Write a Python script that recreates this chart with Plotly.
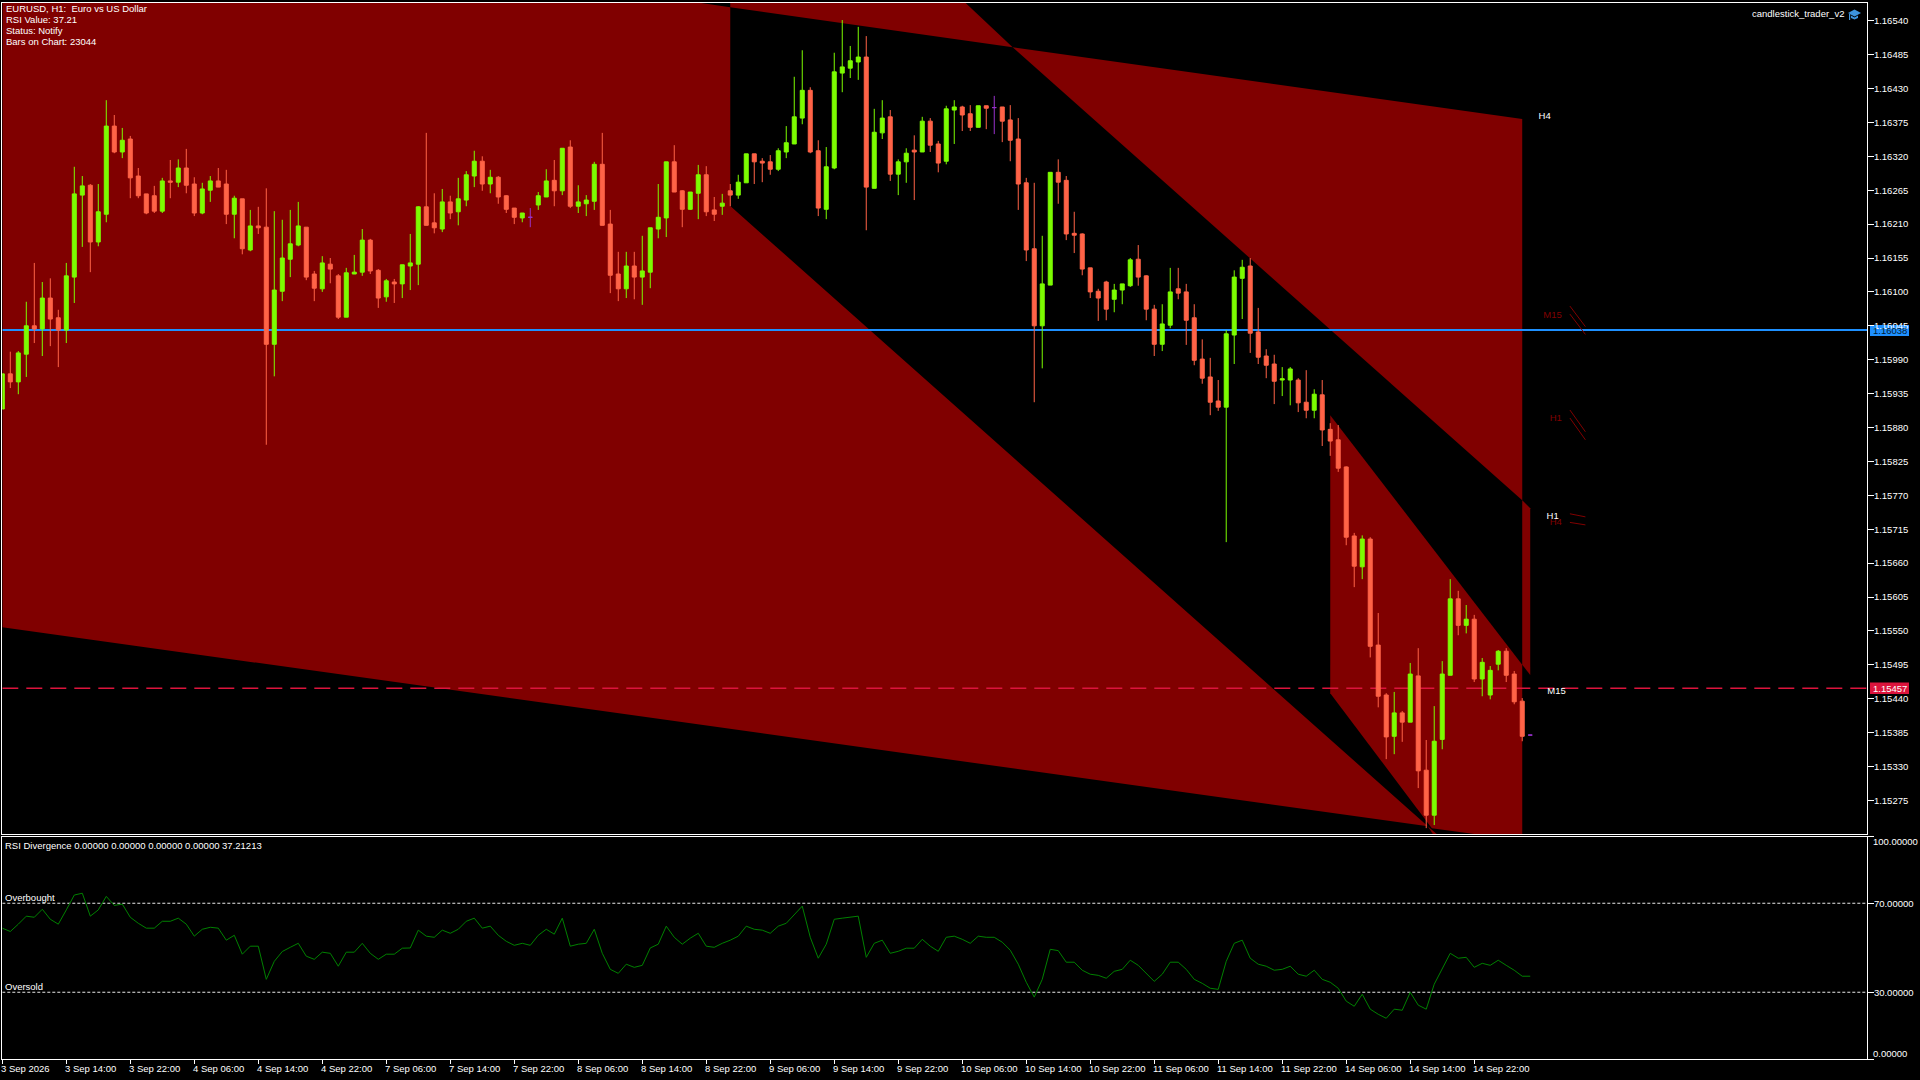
import numpy as np
import plotly.graph_objects as go

WIDTH, HEIGHT = 1920, 1080

# EURUSD H1 candles, in 1e-5 price points, one row of ten bars per line
open_pts = [
    115910, 115967, 115954, 115999, 116045, 116040, 116090, 116058, 116038, 116124,
    116257, 116273, 116181, 116226, 116369, 116327, 116348, 116288, 116259, 116256,
    116231, 116280, 116278, 116301, 116275, 116228, 116265, 116280, 116275, 116226,
    116251, 116168, 116207, 116205, 116015, 116101, 116153, 116176, 116205, 116129,
    116105, 116145, 116126, 116059, 116129, 116132, 116184, 116135, 116092, 116116,
    116113, 116142, 116145, 116238, 116212, 116202, 116246, 116230, 116249, 116288,
    116312, 116275, 116286, 116256, 116236, 116220, 116221, 116241, 116254, 116281,
    116264, 116335, 116239, 116243, 116247, 116307, 116210, 116129, 116105, 116142,
    116124, 116132, 116202, 116220, 116311, 116264, 116234, 116260, 116290, 116233,
    116239, 116264, 116257, 116277, 116324, 116312, 116311, 116299, 116327, 116340,
    116382, 116427, 116329, 116234, 116301, 116455, 116463, 116473, 116481, 116268,
    116358, 116384, 116291, 116311, 116330, 116327, 116377, 116340, 116312, 116395,
    116400, 116389, 116367, 116402, 116399, 116400, 116379, 116348, 116277, 116170,
    116045, 116111, 116294, 116281, 116195, 116194, 116139, 116101, 116116, 116088,
    116103, 116110, 116153, 116126, 116072, 116015, 116046, 116105, 116100, 116058,
    115991, 115962, 115923, 115913, 116030, 116122, 116142, 116035, 115996, 115983,
    115957, 115957, 115957, 115921, 115908, 115933, 115877, 115860, 115816, 115704,
    115654, 115699, 115527, 115446, 115379, 115417, 115402, 115477, 115324, 115251,
    115374, 115478, 115602, 115559, 115569, 115472, 115446, 115496, 115517, 115480,
    115436, 115381,
]
high_pts = [
    115967, 116003, 116004, 116084, 116147, 116116, 116122, 116071, 116147, 116303,
    116288, 116275, 116275, 116411, 116387, 116366, 116353, 116301, 116259, 116272,
    116285, 116314, 116315, 116332, 116286, 116277, 116288, 116301, 116298, 116256,
    116251, 116233, 116238, 116268, 116231, 116217, 116233, 116246, 116205, 116134,
    116158, 116155, 116129, 116139, 116160, 116202, 116186, 116137, 116121, 116121,
    116144, 116194, 116239, 116358, 116260, 116267, 116256, 116285, 116296, 116329,
    116320, 116298, 116288, 116257, 116236, 116228, 116236, 116262, 116299, 116314,
    116333, 116346, 116273, 116257, 116311, 116358, 116233, 116165, 116165, 116165,
    116191, 116204, 116275, 116311, 116338, 116265, 116262, 116306, 116304, 116254,
    116259, 116275, 116290, 116324, 116324, 116317, 116322, 116333, 116369, 116449,
    116492, 116432, 116346, 116335, 116488, 116541, 116499, 116530, 116515, 116397,
    116411, 116395, 116315, 116333, 116354, 116384, 116382, 116345, 116402, 116411,
    116402, 116403, 116402, 116402, 116418, 116400, 116403, 116382, 116285, 116277,
    116191, 116294, 116315, 116288, 116230, 116195, 116139, 116105, 116118, 116113,
    116113, 116155, 116176, 116127, 116079, 116080, 116139, 116139, 116113, 116080,
    116023, 115993, 115957, 116038, 116135, 116152, 116155, 116074, 116007, 115998,
    115978, 115978, 115960, 115973, 115942, 115957, 115887, 115884, 115817, 115709,
    115705, 115702, 115579, 115449, 115451, 115420, 115498, 115522, 115373, 115428,
    115501, 115634, 115615, 115592, 115576, 115506, 115493, 115519, 115522, 115485,
    115441, 115381,
]
low_pts = [
    115910, 115944, 115934, 115962, 116017, 115996, 116012, 115978, 116017, 116082,
    116173, 116132, 116174, 116213, 116325, 116317, 116252, 116252, 116226, 116228,
    116228, 116252, 116270, 116260, 116223, 116226, 116246, 116270, 116210, 116187,
    116161, 116166, 116194, 115852, 115963, 116085, 116124, 116174, 116119, 116085,
    116100, 116114, 116056, 116059, 116129, 116126, 116129, 116074, 116084, 116082,
    116090, 116103, 116111, 116208, 116195, 116197, 116218, 116208, 116239, 116270,
    116264, 116260, 116243, 116228, 116210, 116213, 116205, 116233, 116254, 116239,
    116257, 116236, 116228, 116223, 116233, 116208, 116098, 116085, 116090, 116088,
    116079, 116106, 116187, 116189, 116262, 116205, 116233, 116218, 116223, 116215,
    116225, 116239, 116251, 116277, 116275, 116278, 116290, 116296, 116317, 116340,
    116372, 116325, 116223, 116218, 116299, 116424, 116447, 116444, 116200, 116268,
    116348, 116280, 116257, 116277, 116249, 116327, 116327, 116294, 116307, 116340,
    116361, 116361, 116367, 116364, 116356, 116343, 116312, 116233, 116150, 115921,
    115976, 116111, 116243, 116184, 116163, 116127, 116090, 116053, 116054, 116067,
    116080, 116108, 116110, 116054, 115996, 116004, 116041, 116088, 116014, 115981,
    115951, 115900, 115907, 115694, 115983, 116056, 116001, 115983, 115960, 115918,
    115931, 115916, 115905, 115895, 115895, 115850, 115834, 115808, 115689, 115621,
    115634, 115507, 115426, 115342, 115350, 115370, 115402, 115295, 115230, 115235,
    115358, 115478, 115543, 115546, 115467, 115444, 115439, 115486, 115467, 115431,
    115371, 115381,
]
close_pts = [
    115967, 115954, 116001, 116045, 116040, 116090, 116056, 116038, 116126, 116259,
    116272, 116181, 116230, 116369, 116327, 116346, 116285, 116256, 116228, 116231,
    116280, 116278, 116301, 116273, 116228, 116267, 116280, 116270, 116226, 116252,
    116170, 116207, 116204, 116015, 116103, 116155, 116178, 116207, 116124, 116106,
    116147, 116137, 116059, 116131, 116132, 116184, 116134, 116090, 116118, 116113,
    116144, 116147, 116238, 116208, 116204, 116246, 116228, 116251, 116290, 116312,
    116275, 116286, 116254, 116234, 116221, 116228, 116221, 116256, 116280, 116264,
    116333, 116239, 116246, 116249, 116307, 116208, 116127, 116105, 116142, 116124,
    116134, 116204, 116221, 116311, 116262, 116234, 116262, 116290, 116230, 116226,
    116244, 116257, 116278, 116324, 116311, 116309, 116299, 116329, 116342, 116384,
    116427, 116327, 116236, 116303, 116457, 116465, 116475, 116481, 116270, 116359,
    116382, 116291, 116311, 116325, 116327, 116377, 116338, 116309, 116397, 116400,
    116387, 116367, 116402, 116398, 116399, 116377, 116346, 116275, 116168, 116045,
    116113, 116294, 116278, 116194, 116192, 116137, 116100, 116090, 116072, 116103,
    116113, 116152, 116124, 116072, 116015, 116048, 116100, 116098, 116054, 115989,
    115960, 115921, 115913, 116032, 116124, 116140, 116033, 115994, 115981, 115955,
    115959, 115975, 115920, 115908, 115934, 115876, 115858, 115814, 115702, 115655,
    115699, 115525, 115444, 115378, 115417, 115402, 115480, 115323, 115251, 115371,
    115480, 115602, 115559, 115569, 115472, 115499, 115486, 115517, 115478, 115435,
    115379, 115381,
]

rsi_values = [
    58.8, 57.3, 60.6, 64.2, 63.7, 67.3, 62.8, 60.6, 67.0, 73.7,
    74.5, 64.2, 67.0, 73.1, 69.0, 69.6, 63.7, 61.0, 58.8, 58.8,
    61.9, 61.9, 63.3, 60.6, 55.2, 58.3, 59.2, 58.8, 53.4, 55.6,
    47.1, 50.7, 50.7, 35.8, 43.9, 48.3, 50.2, 52.0, 46.2, 44.8,
    48.0, 47.5, 41.7, 48.0, 48.0, 52.0, 47.5, 44.8, 47.1, 47.1,
    49.8, 49.9, 57.9, 55.2, 54.7, 57.9, 56.5, 58.3, 61.9, 63.3,
    58.8, 59.7, 55.6, 52.9, 51.1, 52.0, 51.1, 55.6, 58.3, 56.1,
    63.3, 50.7, 51.6, 52.0, 58.3, 47.5, 40.3, 38.5, 42.6, 41.2,
    42.1, 49.9, 51.6, 59.7, 54.7, 51.6, 54.3, 56.5, 50.7, 50.2,
    52.0, 53.4, 55.2, 59.7, 58.3, 57.9, 56.5, 59.7, 61.0, 65.0,
    68.7, 54.7, 45.3, 51.6, 62.8, 63.3, 63.7, 64.2, 45.7, 52.0,
    53.4, 47.5, 48.4, 49.8, 49.8, 53.8, 50.7, 48.4, 54.7, 55.2,
    53.8, 52.0, 55.2, 54.7, 54.7, 52.5, 48.9, 42.6, 34.5, 27.8,
    35.8, 49.3, 48.7, 43.5, 43.5, 39.9, 38.1, 37.6, 36.3, 39.4,
    40.3, 44.4, 42.1, 38.5, 34.9, 38.1, 43.5, 43.5, 40.3, 35.8,
    34.0, 31.8, 31.3, 43.9, 52.0, 53.4, 45.3, 42.6, 41.7, 39.9,
    40.3, 41.7, 38.1, 37.2, 39.9, 35.8, 34.5, 31.8, 26.0, 23.7,
    29.1, 22.4, 20.1, 18.3, 22.4, 21.9, 30.0, 24.2, 22.4, 33.6,
    40.3, 47.5, 45.3, 45.7, 41.2, 43.0, 42.1, 44.4, 42.1, 39.9,
    37.2, 37.21,
]

date_labels = [
    "3 Sep 2026", "3 Sep 14:00", "3 Sep 22:00", "4 Sep 06:00", "4 Sep 14:00", "4 Sep 22:00",
    "7 Sep 06:00", "7 Sep 14:00", "7 Sep 22:00", "8 Sep 06:00", "8 Sep 14:00", "8 Sep 22:00",
    "9 Sep 06:00", "9 Sep 14:00", "9 Sep 22:00", "10 Sep 06:00", "10 Sep 14:00", "10 Sep 22:00",
    "11 Sep 06:00", "11 Sep 14:00", "11 Sep 22:00", "14 Sep 06:00", "14 Sep 14:00", "14 Sep 22:00",
]
bars_per_label = 8
price_ticks = [1.16540 - 0.00055 * n for n in range(24)]
rsi_levels = [70, 30]

bid_price = 1.16038
ask_price = 1.15457

# filled channel areas: (bar, price points) corners
area_a_bars = [0, 87.2, 91, 91, 178.2, 0]
area_a_pts = [116569, 116569, 116562, 116239.5, 115233, 115556]
area_b_bars = [91, 91, 120.4, 126.3]
area_b_pts = [116562, 116569, 116569, 116497]
area_c_bars = [126.3, 190, 190]
area_c_pts = [116497, 116380.6, 115762]
area_d_bars = [190, 191, 191, 190]
area_d_pts = [115762, 115749, 115478.5, 115495]
area_e_bars = [166, 190, 190, 184, 178.7, 166]
area_e_pts = [115900, 115495, 115220.5, 115220.5, 115230, 115449]
area_f_bars = [178.2, 179.35, 178.85]
area_f_pts = [115233, 115220, 115220]

# short timeframe trend marks to the right of the last bar
mark_bars = [195.96, 197.9]
mark_pts = [
    [116077, 116043.6], [116064, 116031],
    [115908.4, 115873], [115895.4, 115860],
    [115740, 115735], [115726, 115722],
]

label_white = ["H4", "H1", "M15", "H4"]
label_white_bars = [192.8, 193.8, 194.3, 192.8]
label_white_pts = [116385, 115735, 115452, 115215]
label_dark = ["M15", "H1", "H4"]
label_dark_bars = [193.8, 194.2, 194.2]
label_dark_pts = [116062, 115895, 115725]

info_lines = ["EURUSD, H1:\u00a0 Euro vs US Dollar", "RSI Value: 37.21", "Status: Notify", "Bars on Chart: 23044"]

BG = "#000000"
DARK_RED = "#800000"
BULL = "#7CFC00"
BEAR = "#FF6347"
DOJI = "#9932CC"
FONT = "Liberation Sans"
FONT_SIZE = 9.5


def px_x(x):
    return x / WIDTH


def px_y(y):
    return 1 - y / HEIGHT


def text_note(x, y, text, color="white", anchor="left"):
    return dict(xref="paper", yref="paper", x=px_x(x - 1.5), y=px_y(y - 1), text=text, showarrow=False,
                xanchor=anchor, yanchor="middle", borderpad=0,
                font=dict(family=FONT, size=FONT_SIZE, color=color))


bars = np.arange(len(open_pts))
o, h, l, c = [np.array(v) / 1e5 for v in (open_pts, high_pts, low_pts, close_pts)]
is_doji = o == c

fig = go.Figure()

for ax, ay in [(area_a_bars, area_a_pts), (area_b_bars, area_b_pts), (area_c_bars, area_c_pts),
               (area_d_bars, area_d_pts), (area_e_bars, area_e_pts), (area_f_bars, area_f_pts)]:
    fig.add_trace(go.Scatter(x=ax, y=np.array(ay) / 1e5, mode="lines", fill="toself", fillcolor=DARK_RED,
                             line=dict(width=0), hoverinfo="skip", xaxis="x", yaxis="y"))

x_end = 233.1
fig.add_trace(go.Scatter(x=[0, x_end], y=[bid_price, bid_price], mode="lines",
                         line=dict(color="#1E90FF", width=2), hoverinfo="skip"))
fig.add_trace(go.Scatter(x=[0, x_end], y=[ask_price, ask_price], mode="lines",
                         line=dict(color="#DC143C", width=1.5, dash="16px,8px"), hoverinfo="skip"))

for m in mark_pts:
    fig.add_trace(go.Scatter(x=mark_bars, y=np.array(m) / 1e5, mode="lines",
                             line=dict(color=DARK_RED, width=1), hoverinfo="skip"))

# candles go on an overlaying axis pair, otherwise the scatter fills cover them
fig.add_trace(go.Candlestick(
    x=bars[~is_doji], open=o[~is_doji], high=h[~is_doji], low=l[~is_doji], close=c[~is_doji],
    increasing=dict(line=dict(color=BULL, width=1), fillcolor=BULL),
    decreasing=dict(line=dict(color=BEAR, width=1), fillcolor=BEAR),
    whiskerwidth=0, hoverinfo="skip", xaxis="x3", yaxis="y3"))
fig.add_trace(go.Candlestick(
    x=bars[is_doji], open=o[is_doji], high=h[is_doji], low=l[is_doji], close=c[is_doji],
    increasing=dict(line=dict(color=DOJI, width=1), fillcolor=DOJI),
    decreasing=dict(line=dict(color=DOJI, width=1), fillcolor=DOJI),
    whiskerwidth=0, hoverinfo="skip", xaxis="x3", yaxis="y3"))

fig.add_trace(go.Scatter(x=label_white_bars, y=np.array(label_white_pts) / 1e5, text=label_white, mode="text",
                         textfont=dict(family=FONT, size=FONT_SIZE, color="white"), hoverinfo="skip"))
fig.add_trace(go.Scatter(x=label_dark_bars, y=np.array(label_dark_pts) / 1e5, text=label_dark, mode="text",
                         textfont=dict(family=FONT, size=FONT_SIZE, color=DARK_RED), hoverinfo="skip"))

# RSI panel
for level in rsi_levels:
    fig.add_trace(go.Scatter(x=[0, x_end], y=[level, level], mode="lines", xaxis="x2", yaxis="y2",
                             line=dict(color="#e8e8e8", width=1, dash="3px,2px"), hoverinfo="skip"))
fig.add_trace(go.Scatter(x=bars, y=rsi_values, mode="lines", xaxis="x2", yaxis="y2",
                         line=dict(color="#008000", width=1), hoverinfo="skip"))

annotations = [text_note(6.7, 9.7 + 11 * n, line) for n, line in enumerate(info_lines)]
annotations += [
    text_note(1846.5, 14, "candlestick_trader_v2", anchor="right"),
    text_note(5.6, 846.5, "RSI Divergence 0.00000 0.00000 0.00000 0.00000 37.21213"),
    text_note(5.6, 898, "Overbought"),
    text_note(5.6, 987.5, "Oversold"),
    text_note(1873, 331.5, f"{bid_price:.5f}", color="#001a33"),
    text_note(1873, 689, f"{ask_price:.5f}"),
    text_note(1873, 842.5, "100.00000"),
    text_note(1873, 1054, "0.00000"),
]
for n, label in enumerate(date_labels):
    annotations.append(dict(xref="x2", yref="paper", x=n * bars_per_label, xshift=-2, y=px_y(1068), text=label,
                            showarrow=False, xanchor="left", yanchor="middle", borderpad=0,
                            font=dict(family=FONT, size=FONT_SIZE, color="white")))

# price boxes and the small cap icon sit in screen pixels
shapes = [
    dict(type="rect", xref="paper", yref="paper", x0=px_x(1870), x1=px_x(1909), y0=px_y(325), y1=px_y(336),
         fillcolor="#1E90FF", line_width=0, layer="below"),
    dict(type="rect", xref="paper", yref="paper", x0=px_x(1870), x1=px_x(1909), y0=px_y(682.5), y1=px_y(694),
         fillcolor="#DC143C", line_width=0, layer="below"),
]
cap_icon = [
    [(1848, 13), (1854.5, 9.5), (1861, 13), (1854.5, 16.5)],
    [(1851, 15.5), (1854.5, 17.5), (1858, 15.5), (1858, 18), (1854.5, 19.5), (1851, 18)],
    [(1849, 14), (1850.2, 14), (1850.2, 20), (1849, 20)],
]
for poly in cap_icon:
    path = "M " + " L ".join(f"{px_x(a):.5f},{px_y(b):.5f}" for a, b in poly) + " Z"
    shapes.append(dict(type="path", xref="paper", yref="paper", path=path, fillcolor="#3d94dd", line_width=0))

frame = dict(showline=True, mirror=True, linecolor="white", linewidth=1, showgrid=False, zeroline=False)
x_domain = [px_x(2.3), px_x(1867)]
y_domain = [px_y(834), px_y(3)]
price_range = [1.152205, 1.165687]

fig.update_layout(
    width=WIDTH, height=HEIGHT, autosize=False,
    margin=dict(l=0, r=0, t=0, b=0, pad=0),
    paper_bgcolor=BG, plot_bgcolor=BG,
    showlegend=False,
    boxmode="overlay", boxgap=0.5, boxgroupgap=0,
    font=dict(family=FONT, size=FONT_SIZE, color="white"),
    xaxis=dict(domain=x_domain, range=[0, x_end], showticklabels=False, ticks="", anchor="y", **frame),
    yaxis=dict(domain=y_domain, range=price_range, side="right", anchor="x",
               tickvals=price_ticks, ticktext=[f"{v:.5f}" for v in price_ticks],
               ticks="outside", ticklen=6, tickcolor="white", tickwidth=1, ticklabelstandoff=-2, **frame),
    xaxis3=dict(domain=x_domain, range=[0, x_end], overlaying="x", anchor="y3", visible=False,
                rangeslider=dict(visible=False)),
    yaxis3=dict(domain=y_domain, range=price_range, overlaying="y", anchor="x3", side="right", visible=False),
    xaxis2=dict(domain=x_domain, range=[0, x_end], anchor="y2", showticklabels=False,
                tickvals=[n * bars_per_label for n in range(len(date_labels))],
                ticks="outside", ticklen=4, tickcolor="white", tickwidth=1, **frame),
    yaxis2=dict(domain=[px_y(1059), px_y(836.5)], range=[0, 100], side="right", anchor="x2",
                tickvals=[0, 30, 70, 100], ticktext=["", "30.00000", "70.00000", ""],
                ticks="outside", ticklen=6, tickcolor="white", tickwidth=1, ticklabelstandoff=-2, **frame),
    annotations=annotations,
    shapes=shapes,
)

fig.write_html("out.html", config=dict(displayModeBar=False),
               post_script="document.body.style.margin='0';document.body.style.background='black';document.body.style.overflow='hidden';")
